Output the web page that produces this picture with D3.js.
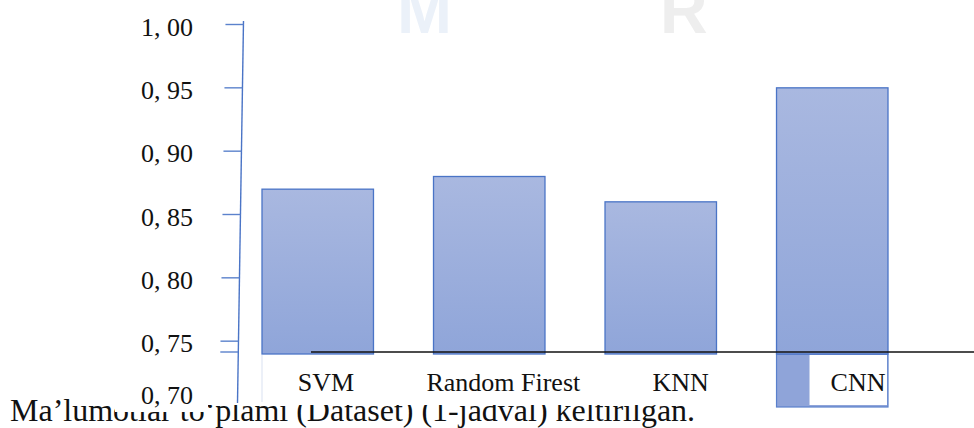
<!DOCTYPE html>
<html>
<head>
<meta charset="utf-8">
<script src="https://cdn.jsdelivr.net/npm/d3@7"></script>
<style>
  html, body { margin: 0; padding: 0; background: #fff; }
  svg { display: block; }
</style>
</head>
<body>
<svg id="chart" width="974" height="428"></svg>
<script>
// Model accuracy values
const categories = ["SVM", "Random Firest", "KNN", "CNN"];
const accuracy = [0.87, 0.88, 0.86, 0.95];
const yTicks = [0.70, 0.75, 0.80, 0.85, 0.90, 0.95, 1.00];
const yTickLabels = ["0, 70", "0, 75", "0, 80", "0, 85", "0, 90", "0, 95", "1, 00"];
const caption = "Ma\u2019lumotlar to\u2018plami (Dataset) (1-jadval) keltirilgan.";

const W = 974, H = 428;
const serif = "'Liberation Serif', 'Times New Roman', serif";
const svg = d3.select("#chart");

svg.append("rect").attr("width", W).attr("height", H).attr("fill", "#fff");

// running text line of the page, partly covered by the chart panel
svg.append("text")
  .attr("x", 10).attr("y", 421)
  .attr("font-family", serif).attr("font-size", 32).attr("fill", "#111")
  .text(caption);

// chart panel (the axis-label part reaches a little lower)
const panelBottom = 405;
const panel = svg.append("g");
panel.append("rect").attr("x", 115).attr("y", 0).attr("width", W - 115).attr("height", panelBottom).attr("fill", "#fff");
panel.append("rect").attr("x", 115).attr("y", 0).attr("width", 93).attr("height", 412).attr("fill", "#fff");

// faint watermark letters at the top edge
panel.append("text").attr("x", 397).attr("y", 33)
  .attr("font-family", "'Liberation Sans', Arial, sans-serif").attr("font-weight", "bold")
  .attr("font-size", 66).attr("fill", "#ebf1f9").text("M");
panel.append("text").attr("x", 660).attr("y", 33)
  .attr("font-family", "'Liberation Sans', Arial, sans-serif").attr("font-weight", "bold")
  .attr("font-size", 66).attr("fill", "#eeeeee").text("R");

// scales
const y = d3.scaleLinear().domain([0.70, 1.00]).range([404.5, 24.5]);
const x = d3.scaleBand().domain(categories).range([262, 888]).paddingInner(0.35).paddingOuter(0);
const xLabel = d3.scalePoint().domain(categories).range([326, 858]);
const baseY = 352;

// gradient fill of bars
const defs = svg.append("defs");
const grad = defs.append("linearGradient").attr("id", "barFill")
  .attr("x1", 0).attr("y1", 0).attr("x2", 0).attr("y2", 1);
grad.append("stop").attr("offset", "0%").attr("stop-color", "#a9b8e0");
grad.append("stop").attr("offset", "100%").attr("stop-color", "#8fa5d9");

const data = categories.map((c, i) => ({ name: c, value: accuracy[i] }));

// CNN bar frame dropping below the label strip
const last = data[data.length - 1];
panel.append("rect")
  .attr("x", x(last.name)).attr("y", baseY + 2)
  .attr("width", x.bandwidth()).attr("height", 53)
  .attr("fill", "#8fa4d9").attr("stroke", "#5a80cc").attr("stroke-width", 1.2);
panel.append("rect")
  .attr("x", x(last.name) + 33).attr("y", baseY + 3)
  .attr("width", x.bandwidth() - 34).attr("height", 50)
  .attr("fill", "#fff");

// bars
panel.selectAll("rect.bar").data(data).join("rect")
  .attr("class", "bar")
  .attr("x", d => x(d.name))
  .attr("y", d => y(d.value))
  .attr("width", x.bandwidth())
  .attr("height", d => baseY + 2 - y(d.value))
  .attr("fill", "url(#barFill)")
  .attr("stroke", "#4a74c6").attr("stroke-width", 1.3);

// faint edge of the label strip
panel.append("line")
  .attr("x1", x(categories[0])).attr("x2", x(categories[0]))
  .attr("y1", baseY + 3).attr("y2", 402)
  .attr("stroke", "#dfe6f4").attr("stroke-width", 1.2);

// baseline
panel.append("line")
  .attr("x1", 311).attr("x2", W).attr("y1", baseY).attr("y2", baseY)
  .attr("stroke", "#111").attr("stroke-width", 1.4);

// category labels
panel.selectAll("text.cat").data(categories).join("text")
  .attr("class", "cat")
  .attr("x", d => xLabel(d)).attr("y", 391)
  .attr("text-anchor", "middle")
  .attr("font-family", serif).attr("font-size", 26).attr("fill", "#111")
  .text(d => d);

// y axis: slightly slanted spine with ticks that end on it
const spineTop = { x: 243.5, y: 21 }, spineBot = { x: 237.5, y: 403 };
const spineX = yy => spineTop.x + (spineBot.x - spineTop.x) * (yy - spineTop.y) / (spineBot.y - spineTop.y);
const axisG = panel.append("g");
axisG.append("line")
  .attr("x1", spineTop.x).attr("y1", spineTop.y).attr("x2", spineBot.x).attr("y2", spineBot.y)
  .attr("stroke", "#4a74c6").attr("stroke-width", 1.4);

const tickLen = 18;
const tickRows = yTicks.map((t, i) => ({ t, label: yTickLabels[i] }));
axisG.selectAll("line.tick").data(tickRows.filter(d => d.t > 0.70)).join("line")
  .attr("class", "tick")
  .attr("x1", d => spineX(y(d.t)) - tickLen).attr("x2", d => spineX(y(d.t)))
  .attr("y1", d => y(d.t)).attr("y2", d => y(d.t))
  .attr("stroke", "#5b82cc").attr("stroke-width", 1.4);
// baseline tick
axisG.append("line")
  .attr("x1", spineX(baseY) - tickLen).attr("x2", spineX(baseY))
  .attr("y1", baseY).attr("y2", baseY)
  .attr("stroke", "#5b82cc").attr("stroke-width", 1.4);

// tick labels; the lowest one is kept inside the panel
axisG.selectAll("text.ylab").data(tickRows).join("text")
  .attr("class", "ylab")
  .attr("x", 193).attr("y", d => Math.min(y(d.t) + 11, panelBottom - 1))
  .attr("text-anchor", "end")
  .attr("font-family", serif).attr("font-size", 26).attr("fill", "#111")
  .text(d => d.label);
</script>
</body>
</html>
